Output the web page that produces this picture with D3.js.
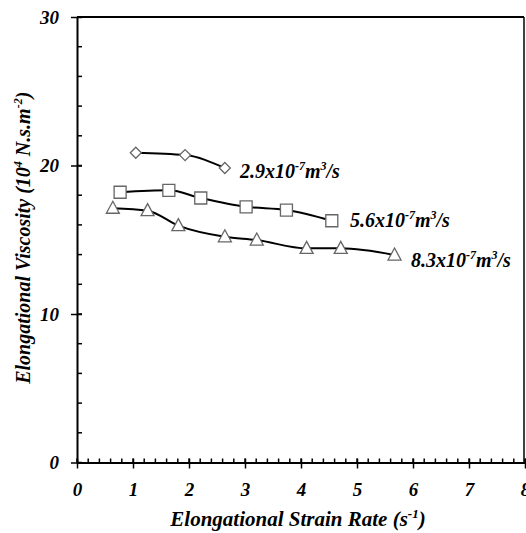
<!DOCTYPE html>
<html><head><meta charset="utf-8">
<script src="https://cdn.jsdelivr.net/npm/d3@7"></script>
<style>body{margin:0;background:#fff}svg{display:block}text{font-family:"Liberation Serif","Times New Roman",serif;font-weight:bold;font-style:italic}</style>
</head><body><svg id="c" width="526" height="533"></svg>
<script>
const xTicks=[0,1,2,3,4,5,6,7,8];
const yTicks=[0,10,20,30];
const s1x=[1.05,1.93,2.64], s1y=[20.86,20.7,19.83];
const s2x=[0.77,1.64,2.21,3.02,3.74,4.55], s2y=[18.2,18.33,17.81,17.22,17.0,16.28];
const s3x=[0.64,1.26,1.81,2.64,3.21,4.1,4.71,5.67], s3y=[17.12,16.96,15.95,15.2,14.98,14.42,14.42,13.97];
const labels=[["2.9x10","-7","m","3","/s"],["5.6x10","-7","m","3","/s"],["8.3x10","-7","m","3","/s"]];

const svg=d3.select("#c");
const L=77,R=524,T=17,B=462.5;
const x=d3.scaleLinear().domain([0,8]).range([L,L+448]);
const y=d3.scaleLinear().domain([0,30]).range([B,T]);

svg.append("line").attr("x1",L).attr("x2",R).attr("y1",T).attr("y2",T).attr("stroke","#000").attr("stroke-width",2);
svg.append("line").attr("x1",R).attr("x2",R).attr("y1",T).attr("y2",B).attr("stroke","#000").attr("stroke-width",1.5);

const g=svg.append("g");
d3.range(0,41,1).map(v=>v/5).forEach(v=>{
  g.append("line").attr("x1",x(v)).attr("x2",x(v)).attr("y1",B).attr("y2",B-4).attr("stroke","#000").attr("stroke-width",1.5);
});
d3.range(0,31,2).forEach(v=>{
  g.append("line").attr("x1",L).attr("x2",L+5).attr("y1",y(v)).attr("y2",y(v)).attr("stroke","#000").attr("stroke-width",1.5);
});
const xa=svg.append("g").attr("transform",`translate(0,${B})`).call(d3.axisBottom(x).tickValues(xTicks).tickFormat(d3.format("d")).tickSizeInner(6).tickSizeOuter(0).tickPadding(14));
xa.select(".domain").attr("stroke-width",2);
xa.selectAll(".tick line").attr("y1",-4).attr("stroke-width",1.5);
xa.selectAll("text").attr("font-size",19).attr("font-family","Liberation Serif").attr("fill","#000");
const ya=svg.append("g").attr("transform",`translate(${L},0)`).call(d3.axisLeft(y).tickValues(yTicks).tickFormat(d3.format("d")).tickSizeInner(6).tickSizeOuter(0).tickPadding(12));
ya.select(".domain").attr("stroke-width",2);
ya.selectAll(".tick line").attr("x1",5).attr("stroke-width",1.5);
ya.selectAll("text").attr("font-size",19).attr("font-family","Liberation Serif").attr("fill","#000");

const xt=svg.append("text").attr("x",298).attr("y",526).attr("text-anchor","middle").attr("font-size",21);
xt.append("tspan").text("Elongational Strain Rate (s");
xt.append("tspan").text("-1").attr("font-size",13).attr("dy",-8);
xt.append("tspan").text(")").attr("dy",8);
const yt=svg.append("text").attr("transform",`translate(30,${(T+B)/2-2}) rotate(-90)`).attr("text-anchor","middle").attr("font-size",20);
yt.append("tspan").text("Elongational Viscosity (10");
yt.append("tspan").text("4").attr("font-size",12).attr("dy",-8);
yt.append("tspan").text(" N.s.m").attr("dy",8);
yt.append("tspan").text("-2").attr("font-size",12).attr("dy",-8);
yt.append("tspan").text(")").attr("dy",8);

const line=d3.line().x(d=>x(d[0])).y(d=>y(d[1])).curve(d3.curveMonotoneX);
const series=[[s1x,s1y,"diamond"],[s2x,s2y,"square"],[s3x,s3y,"triangle"]];
series.forEach(([xs,ys])=>{
  const pts=xs.map((v,i)=>[v,ys[i]]);
  svg.append("path").attr("d",line(pts)).attr("fill","none").attr("stroke","#000").attr("stroke-width",2);
});
series.forEach(([xs,ys,sh])=>{
  xs.forEach((v,i)=>{
    const cx=x(v),cy=y(ys[i]);
    let d;
    if(sh==="diamond") d=`M${cx},${cy-5.5}L${cx+5.5},${cy}L${cx},${cy+5.5}L${cx-5.5},${cy}Z`;
    else if(sh==="square") d=`M${cx-6},${cy-6}h12v12h-12Z`;
    else d=`M${cx},${cy-7}L${cx+6.5},${cy+5}L${cx-6.5},${cy+5}Z`;
    svg.append("path").attr("d",d).attr("fill","#fff").attr("stroke","#666").attr("stroke-width",1.3);
  });
});
const lp=[[240,178],[350,227],[411,267]];
labels.forEach((lb,i)=>{
  const t=svg.append("text").attr("x",lp[i][0]).attr("y",lp[i][1]).attr("font-size",20);
  t.append("tspan").text(lb[0]);
  t.append("tspan").text(lb[1]).attr("font-size",12).attr("dy",-8);
  t.append("tspan").text(lb[2]).attr("dy",8);
  t.append("tspan").text(lb[3]).attr("font-size",12).attr("dy",-8);
  t.append("tspan").text(lb[4]).attr("dy",8);
});
</script></body></html>
